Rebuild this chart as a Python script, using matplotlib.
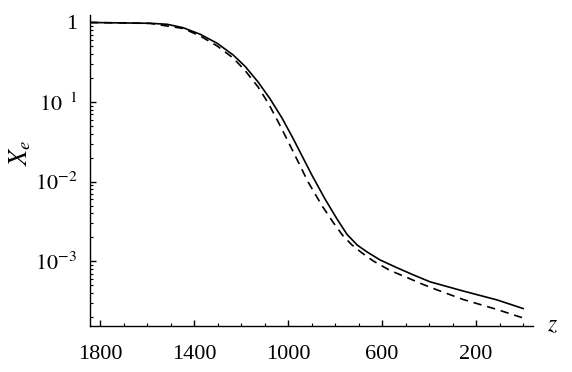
import matplotlib
matplotlib.use("Agg")
import matplotlib.pyplot as plt
from matplotlib.ticker import FixedLocator, LogLocator, NullFormatter, FixedFormatter

plt.rcParams['font.family'] = ['Liberation Serif', 'DejaVu Serif']
plt.rcParams['mathtext.fontset'] = 'stix'

# Solid curve
z_solid = [1843, 1587, 1515, 1447, 1374, 1302, 1234, 1183, 1128, 1077, 1026, 979,
           928, 898, 843, 792, 749, 706, 664, 609, 536, 468, 396, 255, 111, 0]
xe_solid = [1.0, 0.977, 0.949, 0.860, 0.711, 0.548, 0.391, 0.281, 0.179, 0.110,
            0.0631, 0.0350, 0.0178, 0.01197, 0.00606, 0.00340, 0.00217, 0.00160,
            0.00131, 0.00104, 0.000828, 0.000676, 0.000552, 0.000423, 0.000327,
            0.000255]

# Dashed curve
z_dashed = [1843, 1587, 1447, 1374, 1302, 1234, 1183, 1128, 1085, 1043, 1000, 957,
            915, 855, 808, 766, 728, 685, 638, 566, 494, 426, 366, 255, 111, 0]
xe_dashed = [1.0, 0.974, 0.841, 0.677, 0.507, 0.358, 0.249, 0.155, 0.0975, 0.0570,
             0.0320, 0.0177, 0.00991, 0.00495, 0.00307, 0.00208, 0.00160, 0.00127,
             0.00101, 0.000766, 0.000625, 0.000512, 0.000437, 0.000331, 0.000248,
             0.000194]

x_ticks = [1800, 1400, 1000, 600, 200]
x_ticklabels = ['1800', '1400', '1000', '600', '200']
y_ticks = [1, 1e-1, 1e-2, 1e-3]
y_ticklabels = ['1', r'$10^{\ \ 1}$', r'$10^{-2}$', r'$10^{-3}$']

fig = plt.figure(figsize=(5.72, 3.72), dpi=100)
ax = fig.add_axes([90/572, 46/372, (533-90)/572, (326-15)/372])

ax.plot(z_solid, xe_solid, color='black', lw=1.2, solid_joinstyle='round')
ax.plot(z_dashed, xe_dashed, color='black', lw=1.2, dashes=(5, 3.5))

ax.set_yscale('log')
ax.set_xlim(1843, -42)
ax.set_ylim(10**-3.813, 10**0.094)

ax.xaxis.set_major_locator(FixedLocator(x_ticks))
ax.xaxis.set_major_formatter(FixedFormatter(x_ticklabels))
ax.xaxis.set_minor_locator(FixedLocator(list(range(0, 1801, 100))))

ax.yaxis.set_major_locator(FixedLocator(y_ticks))
ax.yaxis.set_major_formatter(FixedFormatter(y_ticklabels))
ax.yaxis.set_minor_locator(LogLocator(base=10, subs=[2, 3, 4, 5, 6, 7, 8, 9]))
ax.yaxis.set_minor_formatter(NullFormatter())

for s in ['top', 'right']:
    ax.spines[s].set_visible(False)
for s in ['left', 'bottom']:
    ax.spines[s].set_linewidth(1.0)

ax.tick_params(axis='both', which='major', direction='in', length=4, width=1.0,
               labelsize=16)
ax.tick_params(axis='both', which='minor', direction='in', length=2, width=0.8)
ax.tick_params(axis='x', which='major', pad=14)
ax.tick_params(axis='y', which='major', pad=9)

fig.text(20/572, 1 - 153/372, r'$X_e$', rotation=90, fontsize=19,
         ha='center', va='center')
fig.text(553/572, 1 - 326/372, r'$z$', fontsize=17, ha='center', va='center')

fig.savefig('out.png', dpi=100)
